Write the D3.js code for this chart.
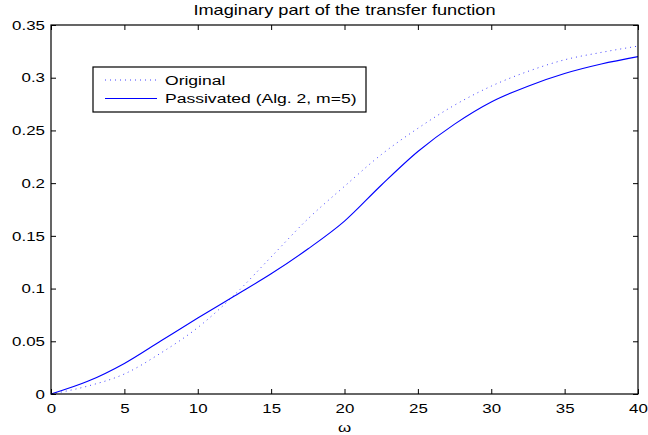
<!DOCTYPE html>
<html>
<head>
<meta charset="utf-8">
<script src="https://cdn.jsdelivr.net/npm/d3@7"></script>
<style>
  html, body { margin: 0; padding: 0; background: #fff; }
  svg { display: block; font-family: "Liberation Sans", Arial, Helvetica, sans-serif; }
</style>
</head>
<body>
<svg id="chart" width="648" height="435"></svg>
<script>
// ---- data ----
const omega = [0, 2.5, 5, 7.5, 10, 12.5, 15, 17.5, 20, 22.5, 25, 27.5, 30, 32.5, 35, 37.5, 40];
const original = [0, 0.0075, 0.019, 0.039, 0.063, 0.094, 0.130, 0.166, 0.197, 0.227, 0.252, 0.274, 0.292, 0.306, 0.317, 0.324, 0.330];
const passivated = [0, 0.012, 0.029, 0.0505, 0.072, 0.093, 0.114, 0.1375, 0.164, 0.198, 0.230, 0.256, 0.277, 0.292, 0.304, 0.313, 0.320];
const xTicks = [0, 5, 10, 15, 20, 25, 30, 35, 40];
const yTicks = [0, 0.05, 0.1, 0.15, 0.2, 0.25, 0.3, 0.35];
const yTickLabels = ["0", "0.05", "0.1", "0.15", "0.2", "0.25", "0.3", "0.35"];
const seriesNames = ["Original", "Passivated (Alg. 2, m=5)"];
const titleText = "Imaginary part of the transfer function";
const xLabelText = "\u03c9";

// ---- layout ----
const SX = 1.3; // horizontal text stretch
const L = 51, R = 638, T = 25, B = 394;
const svg = d3.select("#chart");

const x = d3.scaleLinear().domain([0, 40]).range([L, R]);
const y = d3.scaleLinear().domain([0, 0.35]).range([B, T]);

// plot background
svg.append("rect").attr("x", L).attr("y", T).attr("width", R - L).attr("height", B - T)
  .attr("fill", "#fff");

// axes
const axB = svg.append("g").attr("transform", `translate(0,${B})`)
  .call(d3.axisBottom(x).tickValues(xTicks).tickSizeInner(-5).tickSizeOuter(0).tickPadding(10).tickFormat(d3.format("d")));
const axL = svg.append("g").attr("transform", `translate(${L},0)`)
  .call(d3.axisLeft(y).tickValues(yTicks).tickSizeInner(-5).tickSizeOuter(0).tickFormat((d, i) => yTickLabels[i]));
const axT = svg.append("g").attr("transform", `translate(0,${T})`)
  .call(d3.axisTop(x).tickValues(xTicks).tickSizeInner(-5).tickSizeOuter(0).tickFormat(""));
const axR = svg.append("g").attr("transform", `translate(${R},0)`)
  .call(d3.axisRight(y).tickValues(yTicks).tickSizeInner(-5).tickSizeOuter(0).tickFormat(""));

[axB, axL, axT, axR].forEach(g => {
  g.select(".domain").remove();
  g.selectAll("line").attr("stroke", "#000").attr("stroke-width", 1);
  g.selectAll("text").attr("font-size", 13).attr("fill", "#000")
    .attr("font-family", "'Liberation Sans', Arial, sans-serif");
});
axB.selectAll("text").attr("transform", `scale(${SX},1)`);
axL.selectAll("text").attr("x", 0).attr("transform", `translate(-6,0) scale(${SX},1)`);

// lines
const lineGen = d3.line().x(d => x(d[0])).y(d => y(d[1])).curve(d3.curveMonotoneX);
const origData = omega.map((w, i) => [w, original[i]]);
const passData = omega.map((w, i) => [w, passivated[i]]);

svg.append("path").datum(origData).attr("d", lineGen)
  .attr("fill", "none").attr("stroke", "#0000ff").attr("stroke-width", 1)
  .attr("stroke-dasharray", "1,4").attr("stroke-opacity", 0.75);
svg.append("path").datum(passData).attr("d", lineGen)
  .attr("fill", "none").attr("stroke", "#0000ff").attr("stroke-width", 1.1);

// box
svg.append("rect").attr("x", L).attr("y", T).attr("width", R - L).attr("height", B - T)
  .attr("fill", "none").attr("stroke", "#000").attr("stroke-width", 1.2);

// title
svg.append("text").attr("text-anchor", "middle").attr("font-size", 14)
  .attr("transform", `translate(${(L + R) / 2},15) scale(${SX},1)`).text(titleText);

// x label
svg.append("text").attr("text-anchor", "middle").attr("font-size", 13)
  .attr("transform", `translate(${(L + R) / 2},432) scale(${SX},1)`).text(xLabelText);

// legend
const lg = svg.append("g");
lg.append("rect").attr("x", 93).attr("y", 67).attr("width", 273).attr("height", 45)
  .attr("fill", "#fff").attr("stroke", "#000").attr("stroke-width", 1.2);
const rows = [80, 98.5];
lg.append("line").attr("x1", 105).attr("x2", 157).attr("y1", rows[0]).attr("y2", rows[0])
  .attr("stroke", "#0000ff").attr("stroke-width", 1).attr("stroke-dasharray", "1,4").attr("stroke-opacity", 0.75);
lg.append("line").attr("x1", 105).attr("x2", 157).attr("y1", rows[1]).attr("y2", rows[1])
  .attr("stroke", "#0000ff").attr("stroke-width", 1.1);
seriesNames.forEach((n, i) => {
  lg.append("text").attr("font-size", 13.5).attr("dy", "0.35em")
    .attr("transform", `translate(165,${rows[i]}) scale(${SX},1)`).text(n);
});
</script>
</body>
</html>
